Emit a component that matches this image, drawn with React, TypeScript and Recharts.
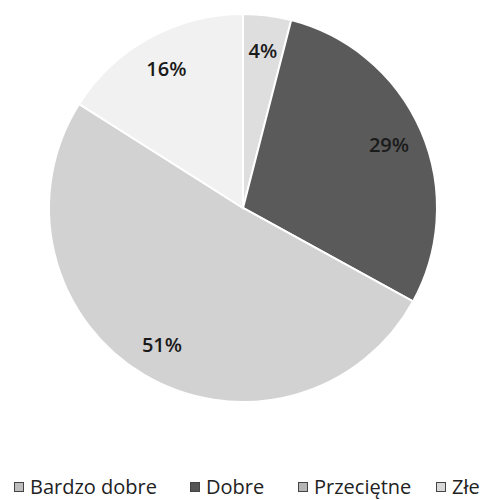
import React from "react";
import { PieChart, Pie, Cell } from "recharts";

const categories = ["Bardzo dobre", "Dobre", "Przeciętne", "Złe"];
const values = [4, 29, 51, 16];
const labels = ["4%", "29%", "51%", "16%"];
const colors = ["#dedede", "#5a5a5a", "#d2d2d2", "#f1f1f1"];
const iconColors = ["#bdbdbd", "#555555", "#b5b5b5", "#d8d8d8"];

const data = categories.map((name, i) => ({ name, value: values[i], label: labels[i] }));

const RADIAN = Math.PI / 180;

const renderLabel = (props: any) => {
  const { cx, cy, midAngle, outerRadius, index } = props;
  const r = outerRadius * 0.82;
  const x = cx + r * Math.cos(-midAngle * RADIAN);
  const y = cy + r * Math.sin(-midAngle * RADIAN);
  return (
    <text
      x={x}
      y={y}
      fill="#1a1a1a"
      textAnchor="middle"
      dominantBaseline="central"
      fontSize={20}
      fontWeight={600}
      fontFamily="'Open Sans', sans-serif"
    >
      {labels[index]}
    </text>
  );
};

const legendX = [14, 190, 298, 436];

export default function App() {
  return (
    <div style={{ position: "absolute", left: 0, top: 0, width: 485, height: 500, background: "#fff" }}>
      <PieChart width={485} height={440} margin={{ top: 0, right: 0, bottom: 0, left: 0 }}>
        <Pie
          data={data}
          dataKey="value"
          nameKey="name"
          cx={243}
          cy={208}
          outerRadius={194}
          startAngle={90}
          endAngle={-270}
          stroke="#ffffff"
          strokeWidth={2}
          label={renderLabel}
          labelLine={false}
          isAnimationActive={false}
        >
          {data.map((d, i) => (
            <Cell key={d.name} fill={colors[i]} />
          ))}
        </Pie>
      </PieChart>
      <div style={{ position: "absolute", left: 0, top: 473, width: 485, height: 30 }}>
        {categories.map((c, i) => (
          <div
            key={c}
            style={{
              position: "absolute",
              left: legendX[i],
              top: 0,
              display: "flex",
              alignItems: "center",
              fontFamily: "'Open Sans', sans-serif",
              fontSize: 20,
              lineHeight: "28px",
              color: "#222",
              whiteSpace: "nowrap",
            }}
          >
            <span
              style={{
                display: "inline-block",
                width: 8,
                height: 8,
                border: "1px solid #444",
                background: iconColors[i],
                marginRight: 6,
              }}
            />
            {c}
          </div>
        ))}
      </div>
    </div>
  );
}
